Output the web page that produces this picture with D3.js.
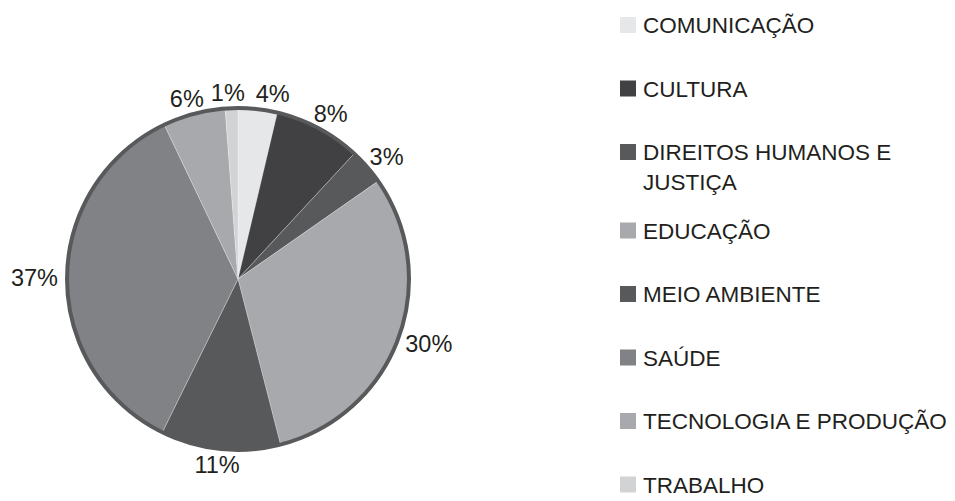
<!DOCTYPE html>
<html>
<head>
<meta charset="utf-8">
<script src="https://cdn.jsdelivr.net/npm/d3@7"></script>
<style>
	body { margin: 0; background: #fff; }
	text { font-family: "Liberation Sans", Arial, sans-serif; fill: #231f20; }
</style>
</head>
<body>
<div id="chart"></div>
<script>
	var w = 955
	var h = 501

	// slices in drawing order, clockwise from 12 o'clock
	var categories = ["COMUNICAÇÃO", "CULTURA", "DIREITOS HUMANOS E JUSTIÇA", "EDUCAÇÃO",
		"MEIO AMBIENTE", "SAÚDE", "TECNOLOGIA E PRODUÇÃO", "TRABALHO"]
	var values = [3.7, 8.2, 3.4, 30.7, 11.3, 35.6, 5.9, 1.2]
	var pctLabels = ["4%", "8%", "3%", "30%", "11%", "37%", "6%", "1%"]
	var colors = ["#e6e7e8", "#414042", "#58595b", "#a7a9ac", "#58595b", "#808285", "#a7a9ac", "#d1d3d4"]
	// legend text, wrapped as in the original
	var legendLines = [["COMUNICAÇÃO"], ["CULTURA"], ["DIREITOS HUMANOS E", "JUSTIÇA"], ["EDUCAÇÃO"],
		["MEIO AMBIENTE"], ["SAÚDE"], ["TECNOLOGIA E PRODUÇÃO"], ["TRABALHO"]]

	var cx = 238
	var cy = 279
	var radius = 171
	var labelRadius = 180

	var svg = d3.select("#chart")
		.append("svg")
		.attr("width", w)
		.attr("height", h)

	var data = categories.map((c, i) => ({ name: c, value: values[i], label: pctLabels[i], color: colors[i] }))

	var pie = d3.pie()
		.value(d => d.value)
		.sort(null)

	var arc = d3.arc()
		.innerRadius(0)
		.outerRadius(radius)

	var arcs = pie(data)

	var g = svg.append("g")
		.attr("transform", "translate(" + cx + "," + cy + ")")

	// slices
	g.selectAll(".slice")
		.data(arcs)
		.enter()
		.append("path").attr("class", "slice")
		.attr("d", arc)
		.attr("fill", d => d.data.color)
		.attr("stroke", "#ffffff")
		.attr("stroke-opacity", 0.35)
		.attr("stroke-width", 0.75)

	// outer border
	g.append("circle")
		.attr("r", radius)
		.attr("fill", "none")
		.attr("stroke", "#58595b")
		.attr("stroke-width", 4)

	// percent labels, pushed outwards so the box sits just off the rim
	var pct = g.selectAll(".pct")
		.data(arcs)
		.enter()
		.append("text").attr("class", "pct")
		.style("font-size", "23.5px")
		.attr("text-anchor", "middle")
		.attr("dy", "0.36em")
		.text(d => d.data.label)

	var boxes = []
	pct.each(function (d) {
		var a = (d.startAngle + d.endAngle) / 2
		var halfW = this.getComputedTextLength() / 2
		var halfH = 7
		boxes.push({
			node: this,
			halfW: halfW,
			x: labelRadius * Math.sin(a) + Math.sin(a) * halfW,
			y: -labelRadius * Math.cos(a) - Math.cos(a) * halfH
		})
	})

	// small slices near the top crowd each other: spread them sideways
	var gap = 11
	var topLabels = boxes.filter(b => b.y < -150).sort((a, b) => a.x - b.x)
	for (var i = 1; i < topLabels.length; i++) {
		var l = topLabels[i - 1], r = topLabels[i]
		var overlap = (l.x + l.halfW + gap) - (r.x - r.halfW)
		if (overlap > 0) {
			l.x -= overlap * 0.25
			r.x += overlap * 0.75
		}
	}
	boxes.forEach(b => d3.select(b.node).attr("x", b.x).attr("y", b.y))

	// legend
	var rowStep = 63.5
	var lineStep = 30
	var extraLine = 15
	var legendX = 620
	var legendTop = 17

	var rowY = []
	var extra = 0
	legendLines.forEach((lines, i) => {
		rowY.push(legendTop + i * rowStep + extra)
		extra += (lines.length - 1) * extraLine
	})

	var legend = svg.selectAll(".legend")
		.data(data)
		.enter()
		.append("g").attr("class", "legend")
		.attr("transform", (d, i) => "translate(" + legendX + "," + rowY[i] + ")")

	legend.append("rect")
		.attr("width", 16)
		.attr("height", 16)
		.attr("fill", d => d.color)

	legend.append("text")
		.style("font-size", "22.5px")
		.attr("x", 23)
		.attr("y", 16)
		.selectAll("tspan")
		.data((d, i) => legendLines[i])
		.enter()
		.append("tspan")
		.attr("x", 23)
		.attr("dy", (d, i) => i === 0 ? 0 : lineStep)
		.text(d => d)
</script>
</body>
</html>
